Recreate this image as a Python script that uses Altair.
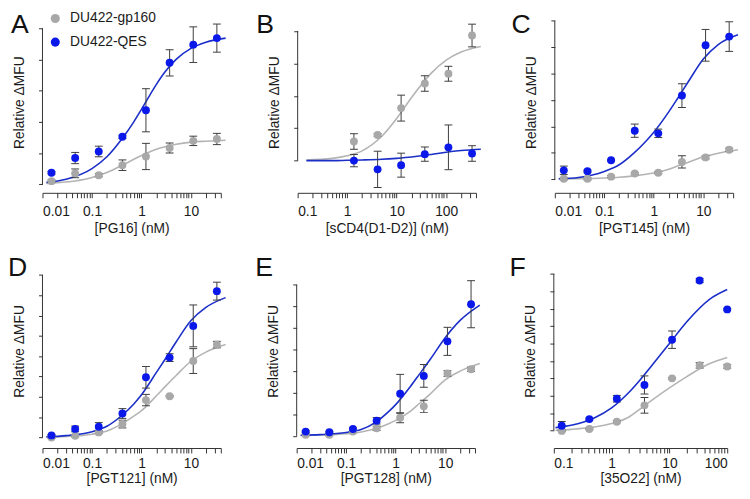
import altair as alt
import pandas as pd

FONT = "Liberation Sans"
GRAY_PT = "#a8a8a8"
BLUE_PT = "#0a18ea"
GRAY_LN = "#b4b4b4"
BLUE_LN = "#1a2ec8"
BAR = "#3c3c3c"
AXIS = "#333333"
TXT = "#1a1a1a"

SERIES = ["DU422-gp160", "DU422-QES"]
FIT_SERIES = ["DU422-gp160 fit", "DU422-QES fit"]
Y_TITLE = "Relative \u0394MFU"

# ---------------- data (in y-tick units) ----------------
CONC8 = [0.0152, 0.0457, 0.137, 0.412, 1.23, 3.70, 11.1, 33.3]
FIT_X13 = [0.012, 0.03, 0.1, 0.2, 0.4, 0.7, 1, 2, 3, 5, 10, 20, 50]

# A  [PG16]
A_conc = CONC8
A_gp160 = [0.10, 0.35, 0.29, 0.61, 0.89, 1.16, 1.39, 1.45]
A_gp160_err = [0.04, 0.14, 0.05, 0.17, 0.42, 0.16, 0.15, 0.18]
A_qes = [0.37, 0.84, 1.05, 1.52, 2.37, 3.89, 4.47, 4.68]
A_qes_err = [0.04, 0.18, 0.17, 0.05, 0.69, 0.42, 0.57, 0.45]
A_fit_x = FIT_X13
A_fit_gp160 = [0.03, 0.07, 0.22, 0.38, 0.60, 0.80, 0.92, 1.12, 1.20, 1.28, 1.35, 1.38, 1.41]
A_fit_qes = [0.06, 0.16, 0.50, 0.88, 1.45, 2.00, 2.40, 3.20, 3.60, 4.00, 4.35, 4.55, 4.68]

# B  [sCD4(D1-D2)]
B_conc = [1.37, 4.12, 12.3, 37.0, 111, 333]
B_gp160 = [0.59, 0.79, 1.62, 2.38, 2.68, 3.86]
B_gp160_err = [0.24, 0.04, 0.40, 0.24, 0.23, 0.35]
B_qes = [0.0, -0.27, -0.14, 0.20, 0.41, 0.22]
B_qes_err = [0.19, 0.56, 0.37, 0.22, 0.69, 0.24]
B_fit_x = [0.15, 0.5, 1, 2, 5, 10, 20, 50, 100, 200, 500]
B_fit_gp160 = [0.02, 0.07, 0.15, 0.30, 0.75, 1.30, 1.95, 2.70, 3.10, 3.35, 3.52]
B_fit_qes = [0.0, 0.0, 0.01, 0.02, 0.04, 0.07, 0.11, 0.19, 0.26, 0.31, 0.35]

# C  [PGT145]
C_conc = CONC8
C_gp160 = [0.02, 0.02, 0.10, 0.22, 0.25, 0.66, 0.83, 1.12]
C_gp160_err = [0.04, 0.04, 0.04, 0.04, 0.04, 0.23, 0.06, 0.06]
C_qes = [0.34, 0.31, 0.72, 1.84, 1.74, 3.17, 5.07, 5.40]
C_qes_err = [0.16, 0.04, 0.04, 0.25, 0.16, 0.45, 0.60, 0.56]
C_fit_x = FIT_X13
C_fit_gp160 = [0.01, 0.02, 0.05, 0.08, 0.13, 0.19, 0.24, 0.38, 0.50, 0.65, 0.85, 0.99, 1.12]
C_fit_qes = [0.02, 0.07, 0.30, 0.55, 1.00, 1.45, 1.78, 2.55, 3.05, 3.70, 4.55, 5.10, 5.47]

# D  [PGT121]
D_conc = CONC8
D_gp160 = [0.0, 0.08, 0.25, 0.66, 1.84, 2.03, 3.76, 4.57]
D_gp160_err = [0.04, 0.05, 0.05, 0.19, 0.28, 0.04, 0.61, 0.16]
D_qes = [0.10, 0.42, 0.53, 1.18, 2.96, 3.93, 5.49, 7.20]
D_qes_err = [0.04, 0.14, 0.20, 0.24, 0.53, 0.19, 1.03, 0.44]
D_fit_x = FIT_X13
D_fit_gp160 = [0.02, 0.05, 0.16, 0.32, 0.67, 1.05, 1.32, 2.05, 2.50, 3.05, 3.75, 4.20, 4.57]
D_fit_qes = [0.03, 0.09, 0.28, 0.55, 1.08, 1.65, 2.10, 3.20, 3.85, 4.70, 5.75, 6.40, 6.88]

# E  [PGT128]
E_conc = CONC8
E_gp160 = [0.05, 0.05, 0.20, 0.35, 0.84, 1.37, 2.89, 3.09]
E_gp160_err = [0.04, 0.04, 0.05, 0.10, 0.23, 0.28, 0.13, 0.10]
E_qes = [0.20, 0.17, 0.32, 0.70, 1.95, 2.78, 4.38, 6.10]
E_qes_err = [0.04, 0.04, 0.05, 0.15, 0.90, 0.53, 0.65, 1.09]
E_fit_x = FIT_X13
E_fit_gp160 = [0.02, 0.04, 0.10, 0.18, 0.34, 0.55, 0.72, 1.15, 1.50, 1.95, 2.60, 3.00, 3.35]
E_fit_qes = [0.03, 0.06, 0.16, 0.30, 0.64, 1.10, 1.45, 2.30, 2.85, 3.55, 4.55, 5.35, 6.06]

# F  [35O22]
F_conc = [0.137, 0.412, 1.23, 3.70, 11.1, 33.3, 100]
F_gp160 = [-0.02, 0.09, 0.51, 1.45, 3.00, 3.75, 3.68]
F_gp160_err = [0.04, 0.04, 0.06, 0.45, 0.04, 0.16, 0.10]
F_qes = [0.28, 0.66, 1.83, 2.62, 5.22, 8.62, 6.96]
F_qes_err = [0.24, 0.05, 0.19, 0.52, 0.50, 0.12, 0.05]
F_fit_x = [0.107, 0.2, 0.5, 1, 2, 3, 5, 10, 20, 50, 100]
F_fit_gp160 = [0.02, 0.07, 0.20, 0.40, 0.78, 1.20, 1.75, 2.45, 3.10, 3.85, 4.20]
F_fit_qes = [0.17, 0.30, 0.72, 1.30, 2.20, 2.85, 3.75, 5.00, 6.25, 7.55, 8.10]

# ---------------- layout / style per panel ----------------
TOP = dict(h=184, lpad=7, tpad=3)
BOT = dict(h=197, lpad=4, tpad=1)
CFG = {
    "A": dict(TOP, xtitle="[PG16] (nM)", xdom=[0.01, 40], w=181, ydom=[-0.274, 5.530], ytop=5, ldx=-32),
    "B": dict(TOP, xtitle="[sCD4(D1-D2)] (nM)", xdom=[0.1, 400], w=181, ydom=[-0.994, 4.599], ytop=4, ldx=-42),
    "C": dict(TOP, xtitle="[PGT145] (nM)", xdom=[0.01, 40], w=181, ydom=[-0.511, 6.347], ytop=6, ldx=-44),
    "D": dict(BOT, xtitle="[PGT121] (nM)", xdom=[0.01, 40], w=181, ydom=[-0.519, 9.031], ytop=8, ldx=-35),
    "E": dict(BOT, xtitle="[PGT128] (nM)", xdom=[0.01, 40], w=181, ydom=[-0.561, 8.430], ytop=7, ldx=-42),
    "F": dict(BOT, xtitle="[35O22] (nM)", xdom=[0.1, 100], w=176, ydom=[-1.002, 10.147], ytop=9, ldx=-45),
}

LABEL_EXPR = ("abs(log(datum.value)/LN10 - round(log(datum.value)/LN10)) < 0.001"
              " ? format(datum.value, '~g') : ''")


def log_ticks(lo, hi):
    vals = []
    for e in range(-3, 4):
        for m in range(1, 10):
            v = round(m * 10 ** e, 6)
            if lo - 1e-9 <= v <= hi + 1e-9:
                vals.append(v)
    return vals


def points_frame(conc, gp, gp_err, qes, qes_err):
    rows = []
    for name, vals, errs in ((SERIES[0], gp, gp_err), (SERIES[1], qes, qes_err)):
        for c, v, e in zip(conc, vals, errs):
            rows.append({"conc": c, "value": v, "lo": v - e, "hi": v + e, "series": name})
    return pd.DataFrame(rows)


def fit_frame(fx, fgp, fqes):
    rows = []
    for name, vals in ((FIT_SERIES[0], fgp), (FIT_SERIES[1], fqes)):
        for c, v in zip(fx, vals):
            rows.append({"conc": c, "value": v, "curve": name})
    return pd.DataFrame(rows)


def panel(letter, pts, fit, legend=None):
    cfg = CFG[letter]
    xmin, xmax = cfg["xdom"]
    xs = alt.Scale(type="log", domain=[xmin, xmax], nice=False)
    ys = alt.Scale(domain=cfg["ydom"], nice=False, zero=False)
    xaxis = alt.Axis(values=log_ticks(xmin, xmax), labelExpr=LABEL_EXPR, tickSize=5,
                     labelPadding=cfg["lpad"], titlePadding=cfg["tpad"], labelOverlap=False, grid=False)
    yaxis = alt.Axis(values=list(range(cfg["ytop"] + 1)), labels=False, domain=False,
                     tickSize=4, titlePadding=12, grid=False)
    X = alt.X("conc:Q", scale=xs, axis=xaxis, title=cfg["xtitle"])

    def Y(f):
        return alt.Y(f, scale=ys, axis=yaxis, title=Y_TITLE)

    lines = alt.Chart(fit).mark_line(strokeWidth=1.6, interpolate="monotone").encode(
        x=X, y=Y("value:Q"),
        stroke=alt.Stroke("curve:N", scale=alt.Scale(domain=FIT_SERIES, range=[GRAY_LN, BLUE_LN]), legend=None),
    )
    base = alt.Chart(pts)
    bars = base.mark_rule(color=BAR, strokeWidth=1).encode(x=X, y=Y("lo:Q"), y2="hi:Q")
    cap_lo = base.mark_tick(orient="horizontal", size=8, thickness=1, color=BAR, opacity=1).encode(x=X, y=Y("lo:Q"))
    cap_hi = base.mark_tick(orient="horizontal", size=8, thickness=1, color=BAR, opacity=1).encode(x=X, y=Y("hi:Q"))
    dots = base.mark_circle(size=64, opacity=1).encode(
        x=X, y=Y("value:Q"),
        color=alt.Color("series:N", scale=alt.Scale(domain=SERIES, range=[GRAY_PT, BLUE_PT]), legend=legend),
    )
    yline = alt.Chart(pd.DataFrame({"conc": [xmin], "lo": [0], "hi": [cfg["ytop"]]})).mark_rule(
        color=AXIS, strokeWidth=1).encode(x=X, y=Y("lo:Q"), y2="hi:Q")
    lab = alt.Chart(pd.DataFrame({"conc": [xmin], "value": [cfg["ydom"][1]], "label": [letter]})).mark_text(
        align="left", baseline="top", font=FONT, fontSize=27, dx=cfg["ldx"], dy=1, color="#111111"
    ).encode(x=X, y=Y("value:Q"), text="label:N")
    return alt.layer(lines, bars, cap_lo, cap_hi, dots, yline, lab).properties(width=cfg["w"], height=cfg["h"])


legend_A = alt.Legend(title=None, orient="none", legendX=6, legendY=0, labelFont=FONT, labelFontSize=14,
                      labelColor=TXT, symbolSize=85, symbolType="circle", symbolStrokeWidth=0,
                      symbolOpacity=1, rowPadding=10, labelOffset=8, padding=0)

pA = panel("A", points_frame(A_conc, A_gp160, A_gp160_err, A_qes, A_qes_err),
           fit_frame(A_fit_x, A_fit_gp160, A_fit_qes), legend=legend_A)
pB = panel("B", points_frame(B_conc, B_gp160, B_gp160_err, B_qes, B_qes_err),
           fit_frame(B_fit_x, B_fit_gp160, B_fit_qes))
pC = panel("C", points_frame(C_conc, C_gp160, C_gp160_err, C_qes, C_qes_err),
           fit_frame(C_fit_x, C_fit_gp160, C_fit_qes))
pD = panel("D", points_frame(D_conc, D_gp160, D_gp160_err, D_qes, D_qes_err),
           fit_frame(D_fit_x, D_fit_gp160, D_fit_qes))
pE = panel("E", points_frame(E_conc, E_gp160, E_gp160_err, E_qes, E_qes_err),
           fit_frame(E_fit_x, E_fit_gp160, E_fit_qes))
pF = panel("F", points_frame(F_conc, F_gp160, F_gp160_err, F_qes, F_qes_err),
           fit_frame(F_fit_x, F_fit_gp160, F_fit_qes))

row1 = alt.hconcat(pA, pB, pC, spacing=27).resolve_scale(color="independent", stroke="independent")
row2 = alt.hconcat(pD, pE, pF, spacing=26).resolve_scale(color="independent", stroke="independent")

chart = (
    alt.vconcat(row1, row2, spacing=19)
    .resolve_scale(color="independent", stroke="independent")
    .properties(padding=0)
    .configure_axis(labelFont=FONT, labelFontSize=14, labelColor=TXT, titleFont=FONT, titleFontSize=14,
                    titleFontWeight="normal", titleColor=TXT, domainColor=AXIS, tickColor=AXIS,
                    domainWidth=1, tickWidth=1)
    .configure_view(strokeWidth=0)
)

chart.save("out.html", embed_options={"renderer": "svg", "actions": False})
